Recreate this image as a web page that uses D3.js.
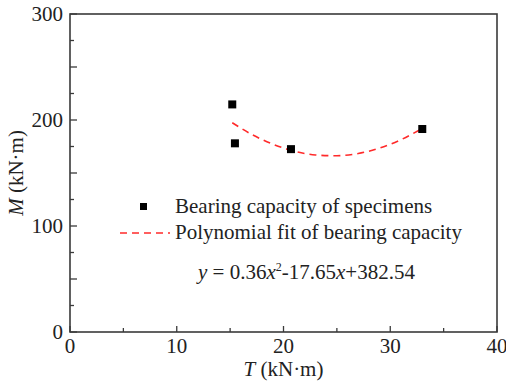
<!DOCTYPE html>
<html>
<head>
<meta charset="utf-8">
<script src="https://cdn.jsdelivr.net/npm/d3@7"></script>
<style>
  body { margin: 0; background: #fff; }
  svg text { font-family: "Liberation Serif", "Times New Roman", Times, serif; fill: #222; }
</style>
</head>
<body>
<div id="chart"></div>
<script>
// specimens (T, M)
var specT = [15.2, 15.45, 20.7, 33.0];
var specM = [214.7, 178.0, 172.5, 191.5];

// fit curve
var fitT = [15.2, 17, 19, 21, 23, 25, 27, 29, 31, 33];
var fitM = [197.4, 186.5, 177.2, 170.6, 167.0, 166.3, 168.4, 173.5, 181.4, 192.1];

var xTicks = [0, 10, 20, 30, 40];
var yTicks = [0, 100, 200, 300];

var margin = {top: 14, right: 9, bottom: 50, left: 70},
    width = 506 - margin.left - margin.right,
    height = 382 - margin.top - margin.bottom;

var fs = 21;

var svg = d3.select("#chart")
  .append("svg")
    .attr("width", 506)
    .attr("height", 382)
  .append("g")
    .attr("transform", "translate(" + margin.left + "," + margin.top + ")");

var x = d3.scaleLinear().domain([0, 40]).range([0, width]);
var y = d3.scaleLinear().domain([0, 300]).range([height, 0]);

// minor ticks (inward)
var axisCol = "#3a3a3a";
d3.range(0, 41, 5).forEach(function(v){
  var len = v % 10 == 0 ? 6 : 4;
  svg.append("line")
    .attr("x1", x(v)).attr("x2", x(v))
    .attr("y1", height).attr("y2", height - len)
    .attr("stroke", axisCol).attr("stroke-width", 1.3);
});
d3.range(0, 301, 25).forEach(function(v){
  var len = v % 50 == 0 ? 7 : 4;
  svg.append("line")
    .attr("x1", 0).attr("x2", len)
    .attr("y1", y(v)).attr("y2", y(v))
    .attr("stroke", axisCol).attr("stroke-width", 1.3);
});

// frame
svg.append("rect")
  .attr("x", 0).attr("y", 0)
  .attr("width", width).attr("height", height)
  .attr("fill", "none")
  .attr("stroke", axisCol)
  .attr("stroke-width", 1.6);

// tick labels
svg.selectAll(".xl")
  .data(xTicks)
  .enter()
  .append("text")
    .attr("x", function(d){ return x(d); })
    .attr("y", height + 21)
    .attr("text-anchor", "middle")
    .attr("font-size", fs)
    .text(function(d){ return d; });

svg.selectAll(".yl")
  .data(yTicks)
  .enter()
  .append("text")
    .attr("x", -7)
    .attr("y", function(d){ return y(d) + 7; })
    .attr("text-anchor", "end")
    .attr("font-size", fs)
    .text(function(d){ return d; });

// axis titles
var xt = svg.append("text")
  .attr("x", width / 2)
  .attr("y", height + 44)
  .attr("text-anchor", "middle")
  .attr("font-size", fs);
xt.append("tspan").attr("font-style", "italic").text("T");
xt.append("tspan").text(" (kN·m)");

var yt = svg.append("text")
  .attr("transform", "translate(-47," + (height / 2) + ") rotate(-90)")
  .attr("text-anchor", "middle")
  .attr("font-size", fs);
yt.append("tspan").attr("font-style", "italic").text("M");
yt.append("tspan").text(" (kN·m)");

// fit line
svg.append("path")
  .datum(d3.zip(fitT, fitM))
  .attr("fill", "none")
  .attr("stroke", "#ff2a2a")
  .attr("stroke-width", 1.6)
  .attr("stroke-dasharray", "7,5")
  .attr("d", d3.line()
    .curve(d3.curveMonotoneX)
    .x(function(d){ return x(d[0]); })
    .y(function(d){ return y(d[1]); }));

// specimens
svg.append("g")
  .selectAll("rect")
  .data(d3.zip(specT, specM))
  .enter()
  .append("rect")
    .attr("x", function(d){ return x(d[0]) - 4; })
    .attr("y", function(d){ return y(d[1]) - 4; })
    .attr("width", 8)
    .attr("height", 8)
    .attr("fill", "#000");

// legend
var lg = svg.append("g").attr("transform", "translate(" + (-margin.left) + "," + (-margin.top) + ")");
lg.append("rect")
  .attr("x", 140).attr("y", 203)
  .attr("width", 7).attr("height", 7)
  .attr("fill", "#000");
lg.append("text")
  .attr("x", 175).attr("y", 213)
  .attr("font-size", fs)
  .text("Bearing capacity of specimens");
lg.append("line")
  .attr("x1", 120).attr("x2", 170)
  .attr("y1", 233).attr("y2", 233)
  .attr("stroke", "#ff2a2a")
  .attr("stroke-width", 1.6)
  .attr("stroke-dasharray", "7,5");
lg.append("text")
  .attr("x", 175).attr("y", 239)
  .attr("font-size", fs)
  .text("Polynomial fit of bearing capacity");

var eq = lg.append("text")
  .attr("x", 198).attr("y", 279)
  .attr("font-size", fs);
eq.append("tspan").attr("font-style", "italic").text("y");
eq.append("tspan").text(" = 0.36");
eq.append("tspan").attr("font-style", "italic").text("x");
eq.append("tspan").attr("font-size", 12).attr("dy", -8).text("2");
eq.append("tspan").attr("dy", 8).text("-17.65");
eq.append("tspan").attr("font-style", "italic").text("x");
eq.append("tspan").text("+382.54");
</script>
</body>
</html>
